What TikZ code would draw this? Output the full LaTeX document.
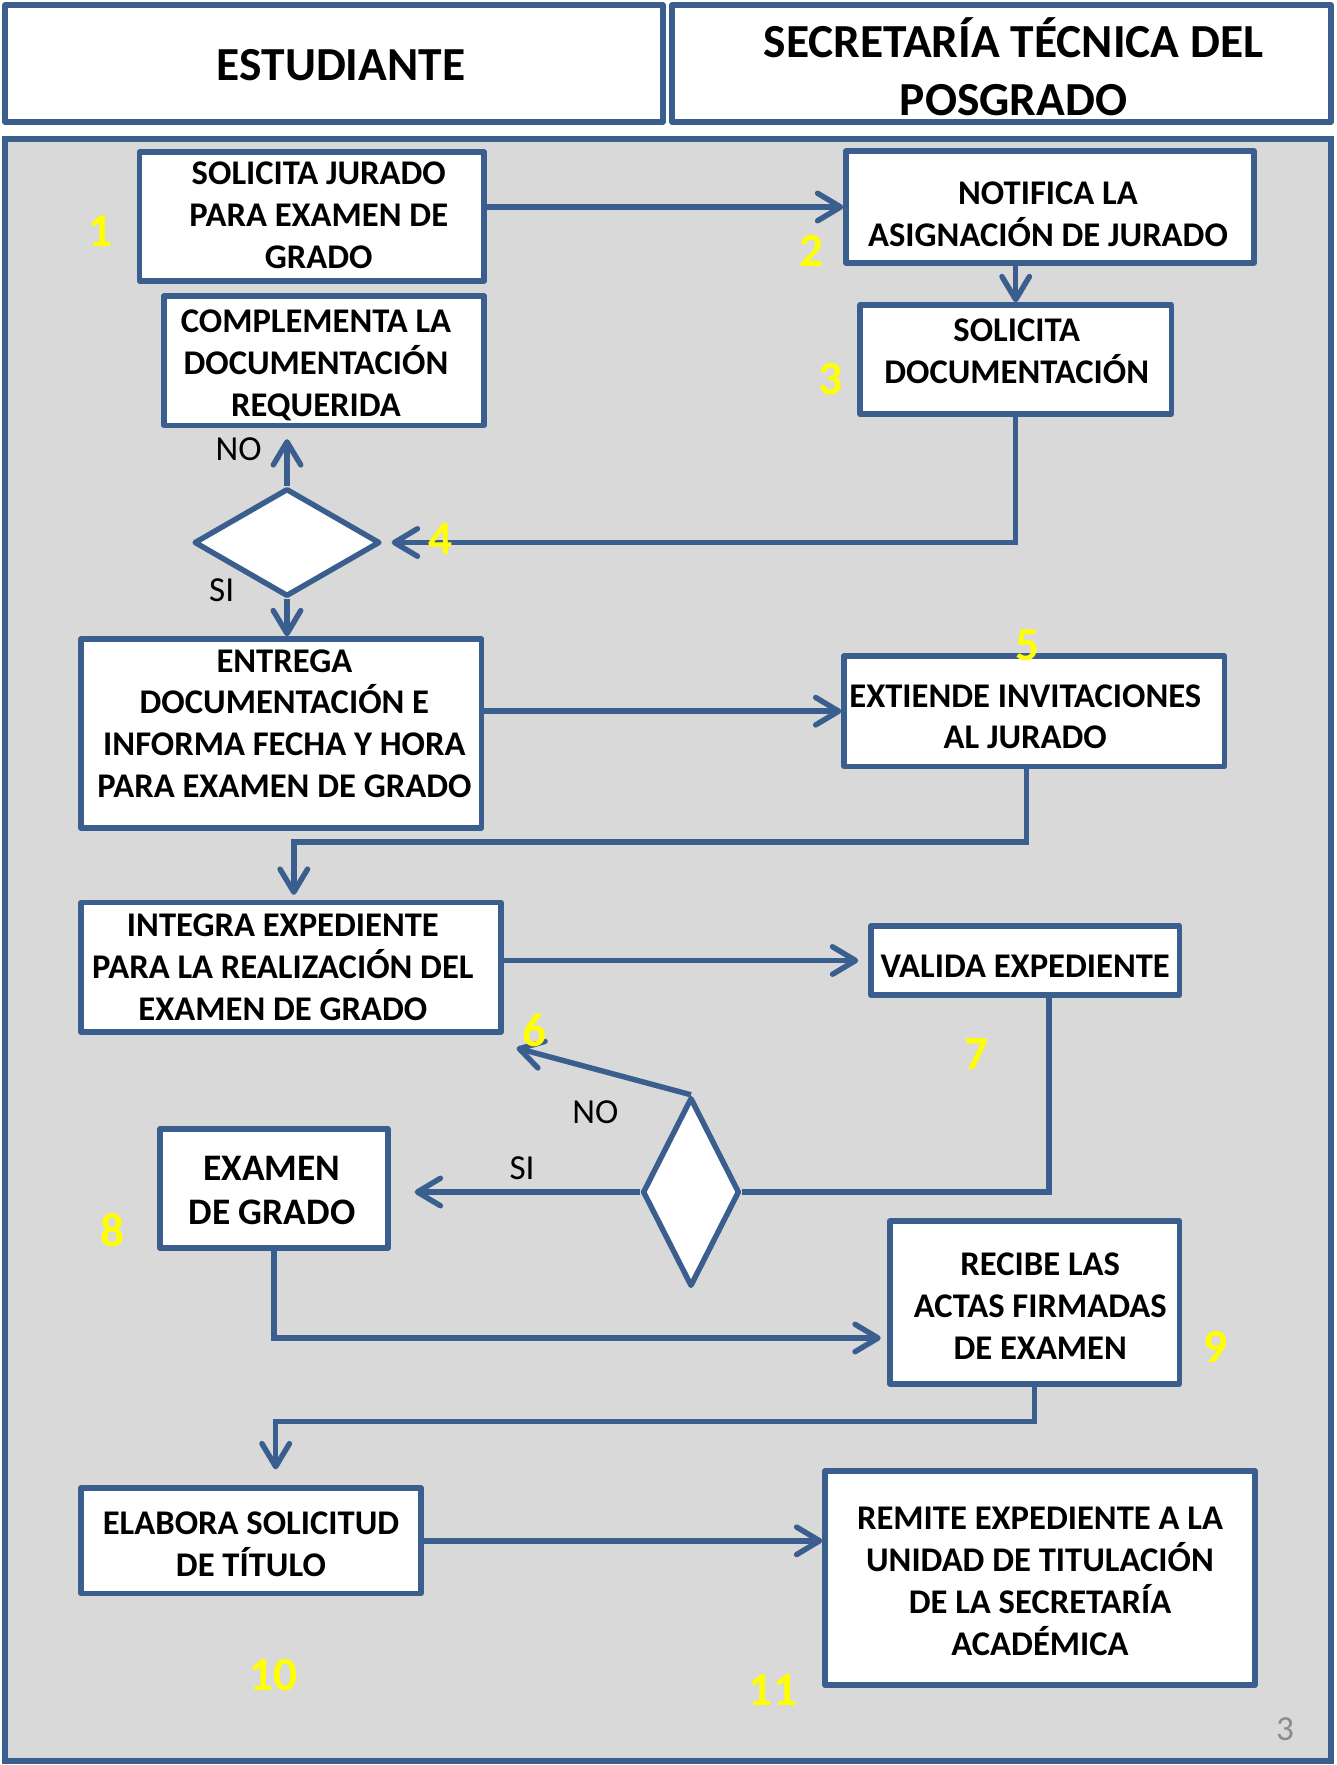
\documentclass[tikz,border=0pt]{standalone}
\usepackage{fontspec}
\setmainfont{Carlito}
\usetikzlibrary{shapes.geometric,arrows.meta}
\definecolor{bordeazul}{HTML}{3A5F8F}
\definecolor{fondogris}{HTML}{D9D9D9}
\definecolor{numamarillo}{HTML}{FFFF00}
\definecolor{numpagina}{HTML}{8C8C8C}
\tikzset{
  paso/.style={draw=bordeazul, line width=3.1pt, line join=round, fill=white, inner sep=0pt},
  rotulo/.style={align=center, inner sep=0pt, font=\bfseries\fontsize{19.7}{23.8}\selectfont},
  cabeza/.style={align=center, inner sep=0pt, font=\bfseries\fontsize{27}{33}\selectfont},
  decision/.style={diamond, draw=bordeazul, line width=3.1pt, line join=round, fill=white, inner sep=0pt},
  flecha/.style={draw=bordeazul, line width=3.1pt, -{Straight Barb[length=0.46cm,width=0.55cm,round]}},
  linea/.style={draw=bordeazul, line width=3.1pt},
  numero/.style={text=numamarillo, font=\bfseries\fontsize{27}{32}\selectfont, inner sep=0pt},
  rama/.style={font=\fontsize{20}{24}\selectfont, inner sep=0pt},
}

\begin{document}
\begin{tikzpicture}[x=0.02cm, y=-0.02cm]
            \useasboundingbox (0,0) rectangle (1336,1765);

            %% encabezado
            \node[paso, minimum width=13.16cm, minimum height=2.34cm] (estud) at (334,63.5) {};
            \node[paso, minimum width=13.18cm, minimum height=2.34cm] (secre) at (1001.5,63.5) {};
            \node[cabeza] (estud-t) at ([shift={(7,2)}]estud.center) {ESTUDIANTE};
            \node[cabeza] (secre-t) at ([shift={(12,3.5)}]secre.center) {SECRETARÍA TÉCNICA DEL\\POSGRADO};

            %% fondo
            \draw[linea, fill=fondogris] (5,139) rectangle (1331,1761);

            %% pasos
            \node[paso, minimum width=6.89cm, minimum height=2.58cm] (solic) at (311.8,216.5) {};
            \node[paso, minimum width=8.16cm, minimum height=2.24cm] (notif) at (1050,207) {};
            \node[paso, minimum width=6.23cm, minimum height=2.18cm] (soldoc) at (1015.7,359.5) {};
            \node[paso, minimum width=6.4cm, minimum height=2.59cm] (compl) at (324,360.7) {};
            \node[decision, minimum width=3.72cm, minimum height=2.16cm] (dec1) at (287,542.5) {};
            \node[paso, minimum width=8.01cm, minimum height=3.78cm] (entrega) at (281.4,733.5) {};
            \node[paso, minimum width=7.61cm, minimum height=2.21cm] (invit) at (1034.3,711.2) {};
            \node[paso, minimum width=8.40cm, minimum height=2.59cm] (integ) at (290.9,967.3) {};
            \node[paso, minimum width=6.17cm, minimum height=1.38cm] (valid) at (1025.2,960.5) {};
            \node[decision, minimum width=1.94cm, minimum height=3.78cm] (dec2) at (691,1192) {};
            \node[paso, minimum width=4.56cm, minimum height=2.38cm] (examen) at (274,1188.5) {};
            \node[paso, minimum width=5.79cm, minimum height=3.26cm] (actas) at (1034.7,1302.5) {};
            \node[paso, minimum width=6.8cm, minimum height=2.11cm] (titulo) at (251,1540.8) {};
            \node[paso, minimum width=8.6cm, minimum height=4.28cm] (remite) at (1040,1578) {};

            %% textos de los pasos
            \node[rotulo] (solic-t) at ([shift={(7,-1)}]solic.center) {SOLICITA JURADO\\PARA EXAMEN DE\\GRADO};
            \node[rotulo] (notif-t) at ([shift={(-2,7)}]notif.center) {NOTIFICA LA\\ASIGNACIÓN DE JURADO};
            \node[rotulo] (soldoc-t) at ([shift={(1,-8)}]soldoc.center) {SOLICITA\\DOCUMENTACIÓN};
            \node[rotulo] (compl-t) at ([shift={(-8,4.5)}]compl.center) {COMPLEMENTA LA\\DOCUMENTACIÓN\\REQUERIDA};
            \node[rotulo] (entrega-t) at ([shift={(3,-10)}]entrega.center) {ENTREGA\\DOCUMENTACIÓN E\\INFORMA FECHA Y HORA\\PARA EXAMEN DE GRADO};
            \node[rotulo] (invit-t) at ([shift={(-9,5.5)}]invit.center) {EXTIENDE INVITACIONES\\AL JURADO};
            \node[rotulo] (integ-t) at ([shift={(-8,0)}]integ.center) {INTEGRA EXPEDIENTE\\PARA LA REALIZACIÓN DEL\\EXAMEN DE GRADO};
            \node[rotulo] (valid-t) at ([shift={(0,5.5)}]valid.center) {VALIDA EXPEDIENTE};
            \node[rotulo, font=\bfseries\fontsize{21.3}{25}\selectfont] (examen-t) at ([shift={(-2,2)}]examen.center) {EXAMEN\\DE GRADO};
            \node[rotulo] (actas-t) at ([shift={(5.5,3.5)}]actas.center) {RECIBE LAS\\ACTAS FIRMADAS\\DE EXAMEN};
            \node[rotulo] (titulo-t) at ([shift={(0,3.5)}]titulo.center) {ELABORA SOLICITUD\\DE TÍTULO};
            \node[rotulo] (remite-t) at ([shift={(0,3.5)}]remite.center) {REMITE EXPEDIENTE A LA\\UNIDAD DE TITULACIÓN\\DE LA SECRETARÍA\\ACADÉMICA};

            %% puntos de quiebre
            \coordinate (c5a) at (1026.5,842);
            \coordinate (c5) at (293.8,842);
            \coordinate (c6) at (516.6,1048);
            \coordinate (c7) at (1049,1192);
            \coordinate (c8) at (273.5,1338);
            \coordinate (c9) at (275.7,1421.5);

            %% conectores
            \draw[flecha] (solic.east |- notif.west) -- (notif.west);
            \draw[flecha] (notif.south -| soldoc.north) -- (soldoc.north);
            \draw[flecha, shorten >=0.18cm] (soldoc.south) |- (dec1.east);
            \draw[flecha, shorten >=0.22cm] (dec1.north) -- (dec1.north |- compl.south);
            \draw[flecha] (dec1.south) -- (dec1.south |- entrega.north);
            \draw[flecha] (entrega.east |- invit.west) -- (invit.west);
            \draw[flecha, shorten >=0.1cm] (c5a |- invit.south) -- (c5a) -- (c5) -- (c5 |- integ.north);
            \draw[flecha, shorten >=0.2cm] (integ.east |- valid.west) -- (valid.west);
            \draw[linea] (valid.south -| c7) -- (c7) -- (dec2.east);
            \draw[flecha] (dec2.north) -- (c6);
            \draw[flecha, shorten >=0.48cm] (dec2.west) -- (dec2.west -| examen.east);
            \draw[flecha, shorten >=0.13cm] (examen.south) -- (examen.south |- c8) -- (c8 -| actas.west);
            \draw[flecha, shorten >=0.32cm] (actas.south) |- (c9) -- (c9 |- titulo.north);
            \draw[flecha] (titulo.east) -- (titulo.east -| remite.west);

            %% etiquetas
            \node[rama] (no1) at (238.6,449) {NO};
            \node[rama] (si1) at (221.7,590) {SI};
            \node[rama] (no2) at (595.4,1112) {NO};
            \node[rama] (si2) at (522,1168) {SI};

            \node[numero] (n1) at (101,231) {1};
            \node[numero] (n2) at (811.5,251) {2};
            \node[numero] (n3) at (830.6,379) {3};
            \node[numero] (n4) at (441,539) {4};
            \node[numero] (n5) at (1027.6,645) {5};
            \node[numero] (n6) at (534.6,1030) {6};
            \node[numero] (n7) at (977,1054.6) {7};
            \node[numero] (n8) at (112.5,1230) {8};
            \node[numero] (n9) at (1215.5,1347) {9};
            \node[numero] (n10) at (273.5,1675) {10};
            \node[numero] (n11) at (773,1690.5) {11};

            \node[text=numpagina, font=\fontsize{20}{24}\selectfont, inner sep=0pt] (pag) at (1285,1729) {3};

\end{tikzpicture}
\end{document}
